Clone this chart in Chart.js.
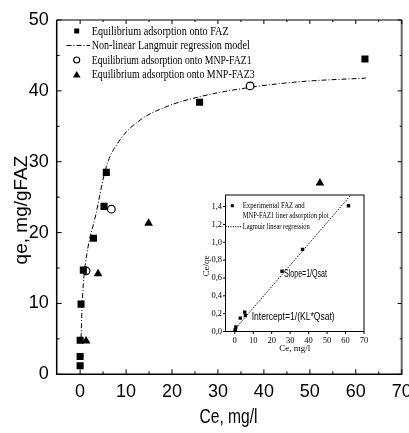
<!DOCTYPE html>
<html><head><meta charset="utf-8">
<script src="https://cdn.jsdelivr.net/npm/chart.js@4.4.0/dist/chart.umd.min.js"></script>
<style>
html,body{margin:0;padding:0;background:#fff;}
#wrap{position:relative;width:409px;height:433px;overflow:hidden;}
#main{position:absolute;left:0;top:0;}
#inset{position:absolute;left:190px;top:185px;}
</style></head><body>
<div id="wrap">
<canvas id="main" width="409" height="433"></canvas>
<canvas id="inset" width="180" height="180"></canvas>
</div>
<script>
// ---- Main chart data (Ce, mg/l ; qe, mg/gFAZ) ----
const fazCe  = [0, 0, 0, 0.2, 0.7, 2.9, 5.2, 5.7, 26.0, 62.0];
const fazQe  = [1.2, 2.5, 4.8, 9.9, 14.7, 19.2, 23.7, 28.5, 38.4, 44.5];
const mnp1Ce = [1.3, 6.8, 37.0];
const mnp1Qe = [14.6, 23.3, 40.7];
const mnp3Ce = [1.3, 3.9, 14.9, 52.2];
const mnp3Qe = [4.7, 14.2, 21.3, 27.0];
// Non-linear Langmuir regression curve
const fitCe  = [0.2, 0.4, 0.7, 1.6, 3.3, 5.7, 8.7, 13.1, 18.9, 26.2, 37.1, 48.0, 62.2];
const fitQe  = [5.1, 9.1, 12.8, 17.5, 22.2, 29.3, 33.1, 35.9, 37.8, 39.2, 40.5, 41.3, 41.8];
const mainXTicks = [0, 10, 20, 30, 40, 50, 60, 70];
const mainYTicks = [0, 10, 20, 30, 40, 50];
const legendLabels = [
  'Equilibrium adsorption onto FAZ',
  'Non-linear Langmuir regression model',
  'Equilibrium adsorption onto MNP-FAZ1',
  'Equilibrium adsorption onto MNP-FAZ3'
];

// ---- Inset data (Ce ; Ce/qe) ----
const insetCe    = [0, 0.3, 0.6, 3.0, 5.4, 5.75, 25.6, 36.7, 61.6];
const insetRatio = [0.0, 0.02, 0.05, 0.15, 0.217, 0.18, 0.676, 0.92, 1.41];
const insetLineCe    = [-1.0, 62.9];
const insetLineRatio = [0.0, 1.53];
const insetXTicks = [0, 10, 20, 30, 40, 50, 60, 70];
const insetYTicks = [0, 0.2, 0.4, 0.6, 0.8, 1.0, 1.2, 1.4];
const insetLegend = ['Experimental FAZ and', 'MNP-FAZ1 liner adsorption plot', 'Lagmuir linear regression'];

const pts = (xs, ys) => xs.map((x, i) => ({x: x, y: ys[i]}));
const SANS = "'Liberation Sans Narrow', 'Liberation Sans', Arial, sans-serif";
const SERIF = "'Liberation Serif', 'Times New Roman', serif";

// ---------- main chart ----------
const mainFrame = {
  id: 'mainFrame',
  afterDraw(chart) {
    const {ctx, chartArea: a, scales: {x, y}} = chart;
    ctx.save();
    // borders
    ctx.strokeStyle = '#000';
    ctx.lineWidth = 1.5;
    ctx.beginPath();
    ctx.moveTo(a.left, a.top); ctx.lineTo(a.left, a.bottom); ctx.lineTo(a.right, a.bottom);
    ctx.stroke();
    ctx.lineWidth = 1;
    ctx.beginPath(); ctx.moveTo(a.left, a.top); ctx.lineTo(a.right, a.top); ctx.stroke();
    ctx.strokeStyle = '#666'; ctx.lineWidth = 2;
    ctx.beginPath(); ctx.moveTo(a.right, a.top); ctx.lineTo(a.right, a.bottom + 0.75); ctx.stroke();
    // inward ticks
    ctx.strokeStyle = '#000'; ctx.lineWidth = 1;
    for (let v = 0; v <= 70; v += 5) {
      const px = x.getPixelForValue(v);
      const L = v % 10 === 0 ? 5 : 3;
      ctx.beginPath();
      ctx.moveTo(px, a.bottom); ctx.lineTo(px, a.bottom - L);
      ctx.moveTo(px, a.top); ctx.lineTo(px, a.top + L - 1);
      ctx.stroke();
    }
    for (let v = 0; v <= 50; v += 5) {
      const py = y.getPixelForValue(v);
      const L = v % 10 === 0 ? 5 : 3;
      ctx.beginPath();
      ctx.moveTo(a.left, py); ctx.lineTo(a.left + L, py);
      ctx.moveTo(a.right, py); ctx.lineTo(a.right - L + 1, py);
      ctx.stroke();
    }
    // axis titles
    ctx.fillStyle = '#000';
    ctx.font = "19px 'Liberation Sans', Arial, sans-serif";
    ctx.textAlign = 'center'; ctx.textBaseline = 'middle';
    ctx.save();
    ctx.translate(22, 210); ctx.rotate(-Math.PI / 2);
    ctx.fillText('qe, mg/gFAZ', 0, 0, 118);
    ctx.restore();
    ctx.font = "21px 'Liberation Sans', Arial, sans-serif";
    ctx.fillText('Ce, mg/l', 228.5, 417, 58);
    // legend
    const rows = [31, 45.5, 60, 74.5];
    const widths = [137, 158, 160, 163];
    ctx.font = "12px " + SERIF;
    ctx.textAlign = 'left';
    for (let i = 0; i < 4; i++) ctx.fillText(legendLabels[i], 91.7, rows[i] + 0.5, widths[i]);
    // markers
    ctx.fillRect(74.2, rows[0] - 2.5, 5, 5);
    ctx.setLineDash([5, 2, 1, 2]);
    ctx.beginPath(); ctx.moveTo(66.5, rows[1]); ctx.lineTo(90, rows[1]); ctx.stroke();
    ctx.setLineDash([]);
    ctx.lineWidth = 1.1;
    ctx.beginPath(); ctx.arc(76.7, rows[2], 3, 0, Math.PI * 2); ctx.stroke();
    ctx.beginPath(); ctx.moveTo(76.7, rows[3] - 3.5); ctx.lineTo(80.5, rows[3] + 3); ctx.lineTo(72.9, rows[3] + 3); ctx.closePath(); ctx.fill();
    ctx.restore();
  }
};

new Chart(document.getElementById('main'), {
  type: 'scatter',
  data: {
    datasets: [
      {label: legendLabels[1], data: pts(fitCe, fitQe), showLine: true, borderColor: '#000', borderWidth: 1,
       borderDash: [5, 2, 1, 2], pointRadius: 0, fill: false, cubicInterpolationMode: 'monotone', order: 4},
      {label: legendLabels[0], data: pts(fazCe, fazQe), pointStyle: 'rect', pointRadius: 5,
       backgroundColor: '#000', borderColor: '#000', borderWidth: 0, order: 1},
      {label: legendLabels[2], data: pts(mnp1Ce, mnp1Qe), pointStyle: 'circle', pointRadius: 3.8,
       backgroundColor: '#fff', borderColor: '#000', borderWidth: 1.2, order: 2},
      {label: legendLabels[3], data: pts(mnp3Ce, mnp3Qe), pointStyle: 'triangle', pointRadius: 5,
       backgroundColor: '#000', borderColor: '#000', borderWidth: 0, order: 3}
    ]
  },
  options: {
    responsive: false, animation: false, events: [],
    layout: {padding: {top: 20, right: 7.3, left: 0, bottom: 0}},
    plugins: {legend: {display: false}, tooltip: {enabled: false}},
    scales: {
      x: {
        type: 'linear', min: -5.1, max: 70,
        grid: {display: false, drawTicks: false}, border: {display: false},
        ticks: {color: '#000', padding: 7, font: {family: SANS, size: 18}},
        afterBuildTicks: s => { s.ticks = mainXTicks.map(v => ({value: v})); },
        afterFit: s => { s.height = 58.7; s.paddingLeft = 0; s.paddingRight = 0; }
      },
      y: {
        type: 'linear', min: 0, max: 50,
        grid: {display: false, drawTicks: false}, border: {display: false},
        ticks: {color: '#000', padding: 8, font: {family: SANS, size: 18}},
        afterBuildTicks: s => { s.ticks = mainYTicks.map(v => ({value: v})); },
        afterFit: s => { s.width = 56.7; s.paddingTop = 0; s.paddingBottom = 0; }
      }
    }
  },
  plugins: [mainFrame]
});

// ---------- inset chart ----------
const insetFrame = {
  id: 'insetFrame',
  beforeDraw(chart) {
    const {ctx, chartArea: a} = chart;
    ctx.save(); ctx.fillStyle = '#fff';
    ctx.fillRect(a.left, a.top, a.right - a.left, a.bottom - a.top);
    ctx.restore();
  },
  afterDraw(chart) {
    const {ctx, chartArea: a, scales: {x, y}} = chart;
    ctx.save();
    ctx.strokeStyle = '#000'; ctx.lineWidth = 1;
    ctx.strokeRect(a.left, a.top, a.right - a.left, a.bottom - a.top);
    ctx.beginPath();
    insetYTicks.forEach(v => { const py = y.getPixelForValue(v); ctx.moveTo(a.left - 2.5, py); ctx.lineTo(a.left, py); });
    insetXTicks.forEach(v => { const px = x.getPixelForValue(v); ctx.moveTo(px, a.bottom); ctx.lineTo(px, a.bottom + 2.5); });
    ctx.stroke();
    ctx.fillStyle = '#000';
    // legend
    ctx.font = "8px " + SERIF; ctx.textAlign = 'left'; ctx.textBaseline = 'middle';
    ctx.fillRect(a.left + 5.3, a.top + 9.2, 3, 3);
    ctx.fillText(insetLegend[0], a.left + 17.2, a.top + 10.7, 62);
    ctx.fillText(insetLegend[1], a.left + 17.2, a.top + 20.7, 86);
    ctx.fillText(insetLegend[2], a.left + 17.2, a.top + 31.7, 67);
    ctx.setLineDash([1.2, 1.2]);
    ctx.beginPath(); ctx.moveTo(a.left, a.top + 31.7); ctx.lineTo(a.left + 16.5, a.top + 31.7); ctx.stroke();
    ctx.setLineDash([]);
    // annotations
    ctx.font = "10px 'Liberation Sans', Arial, sans-serif";
    ctx.fillText('Slope=1/Qsat', a.left + 58.5, a.top + 79, 43);
    ctx.fillText('Intercept=1/(KL*Qsat)', a.left + 26.2, a.top + 122.3, 83);
    // y title
    ctx.font = "9px " + SERIF; ctx.textAlign = 'center';
    ctx.save(); ctx.translate(16.7, 81); ctx.rotate(-Math.PI / 2);
    ctx.fillText('Ce/qe', 0, 0); ctx.restore();
    ctx.fillText('Ce, mg/l', (a.left + a.right) / 2, 164);
    ctx.restore();
  }
};

new Chart(document.getElementById('inset'), {
  type: 'scatter',
  data: {
    datasets: [
      {label: insetLegend[2], data: pts(insetLineCe, insetLineRatio), showLine: true, borderColor: '#000',
       borderWidth: 1, borderDash: [1.2, 1.2], pointRadius: 0, fill: false, order: 2},
      {label: insetLegend[0], data: pts(insetCe, insetRatio), pointStyle: 'rect', pointRadius: 2.4,
       backgroundColor: '#000', borderColor: '#000', borderWidth: 0, order: 1}
    ]
  },
  options: {
    responsive: false, animation: false, events: [],
    layout: {padding: {top: 10, right: 6, left: 0, bottom: 0}},
    plugins: {legend: {display: false}, tooltip: {enabled: false}},
    scales: {
      x: {
        type: 'linear', min: -5, max: 70,
        grid: {display: false, drawTicks: false}, border: {display: false},
        ticks: {color: '#000', padding: 4, font: {family: SERIF, size: 8.5}},
        afterBuildTicks: s => { s.ticks = insetXTicks.map(v => ({value: v})); },
        afterFit: s => { s.height = 33.5; s.paddingLeft = 0; s.paddingRight = 0; }
      },
      y: {
        type: 'linear', min: 0, max: 1.53,
        grid: {display: false, drawTicks: false}, border: {display: false},
        ticks: {color: '#000', padding: 3.5, font: {family: SERIF, size: 8.5},
                callback: v => v.toFixed(1).replace('.', ',')},
        afterBuildTicks: s => { s.ticks = insetYTicks.map(v => ({value: v})); },
        afterFit: s => { s.width = 35.5; s.paddingTop = 0; s.paddingBottom = 0; }
      }
    }
  },
  plugins: [insetFrame]
});
</script>
</body></html>
